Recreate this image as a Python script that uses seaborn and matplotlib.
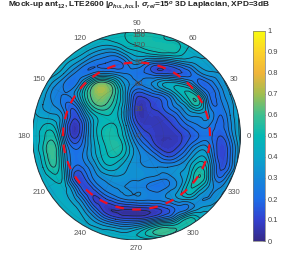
import numpy as np
import seaborn as sns
from matplotlib import pyplot as plt
from matplotlib import tri
from matplotlib.cm import ScalarMappable
from matplotlib.colors import Normalize
from matplotlib.patches import Circle

# correlation, one row per 0.1 of the disc, top to bottom (percent)
rows = [
    [45,45,45,45,45,45,45,46,48,50,52,53,52,50,47,45,45,45,45,45,45],
    [45,45,45,45,45,45,44,43,45,49,52,53,52,51,50,46,44,44,44,44,44],
    [45,45,45,45,44,40,34,30,30,38,43,46,49,50,49,43,42,42,42,42,42],
    [45,45,45,42,36,28,22,20,18,24,32,25,20,22,28,33,37,38,40,45,45],
    [45,45,42,35,25,22,28,30,28,25,22,20,15,15,15,18,27,33,35,42,45],
    [45,42,33,25,22,40,60,64,50,33,25,28,35,42,42,35,20,20,30,38,45],
    [45,38,28,25,30,50,66,67,54,33,13,15,20,28,42,52,42,20,25,35,45],
    [42,35,30,22,20,42,59,60,50,32,8,8,12,20,30,42,50,25,22,32,42],
    [42,38,36,28,12,28,45,50,47,30,8,7,8,13,20,30,32,30,20,30,42],
    [42,45,45,25,6,20,42,50,50,35,14,8,7,8,13,20,25,25,18,28,42],
    [42,48,52,28,8,22,42,52,52,40,22,12,7,6,8,14,20,22,15,25,42],
    [42,50,58,35,18,25,40,50,55,45,30,20,10,7,10,20,30,27,12,20,40],
    [42,48,58,38,22,27,38,48,50,42,32,28,22,15,20,30,40,33,12,20,40],
    [42,45,55,40,20,22,32,42,42,36,32,30,30,30,32,38,50,38,15,22,42],
    [42,42,47,42,15,15,27,32,34,33,32,30,28,27,33,42,55,38,20,33,42],
    [42,42,42,42,28,12,18,27,30,30,28,25,22,26,33,48,45,33,30,38,42],
    [42,42,42,42,36,22,9,15,22,27,28,27,27,30,35,38,32,30,35,42,42],
    [42,42,42,43,42,33,18,7,6,6,7,8,10,15,22,26,35,38,42,42,42],
    [42,42,42,43,43,40,32,22,15,12,12,15,22,28,40,52,46,42,42,42,42],
    [42,42,42,42,42,42,42,40,38,36,40,48,56,58,54,46,42,42,42,42,42],
    [42,42,42,42,42,42,42,42,42,42,42,42,42,42,42,42,42,42,42,42,42],
]
azimuth_ticks = [0, 30, 60, 90, 120, 150, 180, 210, 240, 270, 300, 330]
elevation_ticks = [0, 30, 60, 90, 120, 150, 180]
cbar_ticks = [0, 0.1, 0.2, 0.3, 0.4, 0.5, 0.6, 0.7, 0.8, 0.9, 1]
cbar_labels = ['0', '0.1', '0.2', '0.3', '0.4', '0.5', '0.6', '0.7', '0.8', '0.9', '1']
red_circle_elevation = 90
# colours at each tenth of the colour bar
parula = ['#352a87', '#3340d0', '#1c6ee8', '#1488d8', '#0aa5c8', '#04b8b4',
          '#3ebf90', '#a0be50', '#f0b43a', '#fcd22a', '#f9fb0e']

sns.set_style('white')
plt.rcParams['font.family'] = ['Liberation Sans', 'DejaVu Sans']
plt.rcParams['mathtext.fontset'] = 'custom'
plt.rcParams['mathtext.rm'] = 'Liberation Sans:bold'
plt.rcParams['mathtext.it'] = 'Liberation Sans:italic:bold'
plt.rcParams['mathtext.bf'] = 'Liberation Sans:bold'

W, H = 297, 273
fig = plt.figure(figsize=(W / 100, H / 100), dpi=100)

# disc is 208 px across, centred on (136.5, 136)
ax = fig.add_axes([32.5 / W, 1 - 240 / H, 208 / W, 208 / H])
ax.set_xlim(-1, 1)
ax.set_ylim(-1, 1)
ax.axis('off')

cmap = sns.blend_palette(parula, n_colors=256, as_cmap=True)
values = np.array(rows) / 100
xs, ys = np.meshgrid(np.linspace(-1, 1, 21), np.linspace(1, -1, 21))
triang = tri.Triangulation(xs.ravel(), ys.ravel())
fine_tri, fine_z = tri.UniformTriRefiner(triang).refine_field(values.ravel(), subdiv=3)

disc = Circle((0, 0), 1, transform=ax.transData, fc='none', ec='none')
ax.add_patch(disc)
fill = ax.tricontourf(fine_tri, fine_z, levels=np.linspace(-0.1, 1.1, 61), cmap=cmap, vmin=0, vmax=1)
lines = ax.tricontour(fine_tri, fine_z, levels=np.arange(0.05, 0.65, 0.05), colors='#1c2433', linewidths=0.55)
fill.set_clip_path(disc)
lines.set_clip_path(disc)


def radius(elev):
    # equal-area projection of the sphere
    return np.sin(np.radians(elev) / 2)


# faint grid
circle_angle = np.radians(np.arange(0, 361, 3))
for elev in elevation_ticks[1:]:
    r = radius(elev)
    ax.plot(r * np.cos(circle_angle), r * np.sin(circle_angle), color='#444444', lw=0.25, alpha=0.3)
for az in azimuth_ticks:
    a = np.radians(az)
    ax.plot([0, np.cos(a)], [0, np.sin(a)], color='#444444', lw=0.25, alpha=0.3)
    ax.text(1.085 * np.cos(a), 1.085 * np.sin(a), str(az), color='#555555', fontsize=5.6,
            ha='center', va='center', clip_on=False)
for elev in elevation_ticks:
    ax.text(0.02, radius(elev), str(elev), color='#555555', fontsize=5.6, ha='center', va='center')

ax.add_patch(Circle((0, 0), 1, fc='none', ec='#20303a', lw=0.7))

r = radius(red_circle_elevation)
ax.plot(r * np.cos(circle_angle), r * np.sin(circle_angle), color='#f01020', lw=1.6,
        dashes=(3.9, 3.8))

cax = fig.add_axes([253 / W, 1 - 241 / H, 12 / W, 210 / H])
cb = fig.colorbar(ScalarMappable(Normalize(0, 1), cmap), cax=cax, ticks=cbar_ticks)
cb.ax.set_yticklabels(cbar_labels)
cb.ax.tick_params(direction='in', length=1.5, width=0.4, labelsize=5.4, labelcolor='#444444',
                  color='#444444', pad=2)
cb.outline.set_edgecolor('#777777')
cb.outline.set_linewidth(0.5)

fig.text(8 / W, 1 - 5.5 / H,
         r'Mock-up ant$_{12}$, LTE2600 |$\rho_{h_{UL},h_{DL}}$|, $\sigma_{rel}$=15$^{o}$ 3D Laplacian, XPD=3dB',
         fontsize=6.0, fontweight='bold', color='#222222', ha='left', va='center')

fig.savefig('out.png', dpi=100)
